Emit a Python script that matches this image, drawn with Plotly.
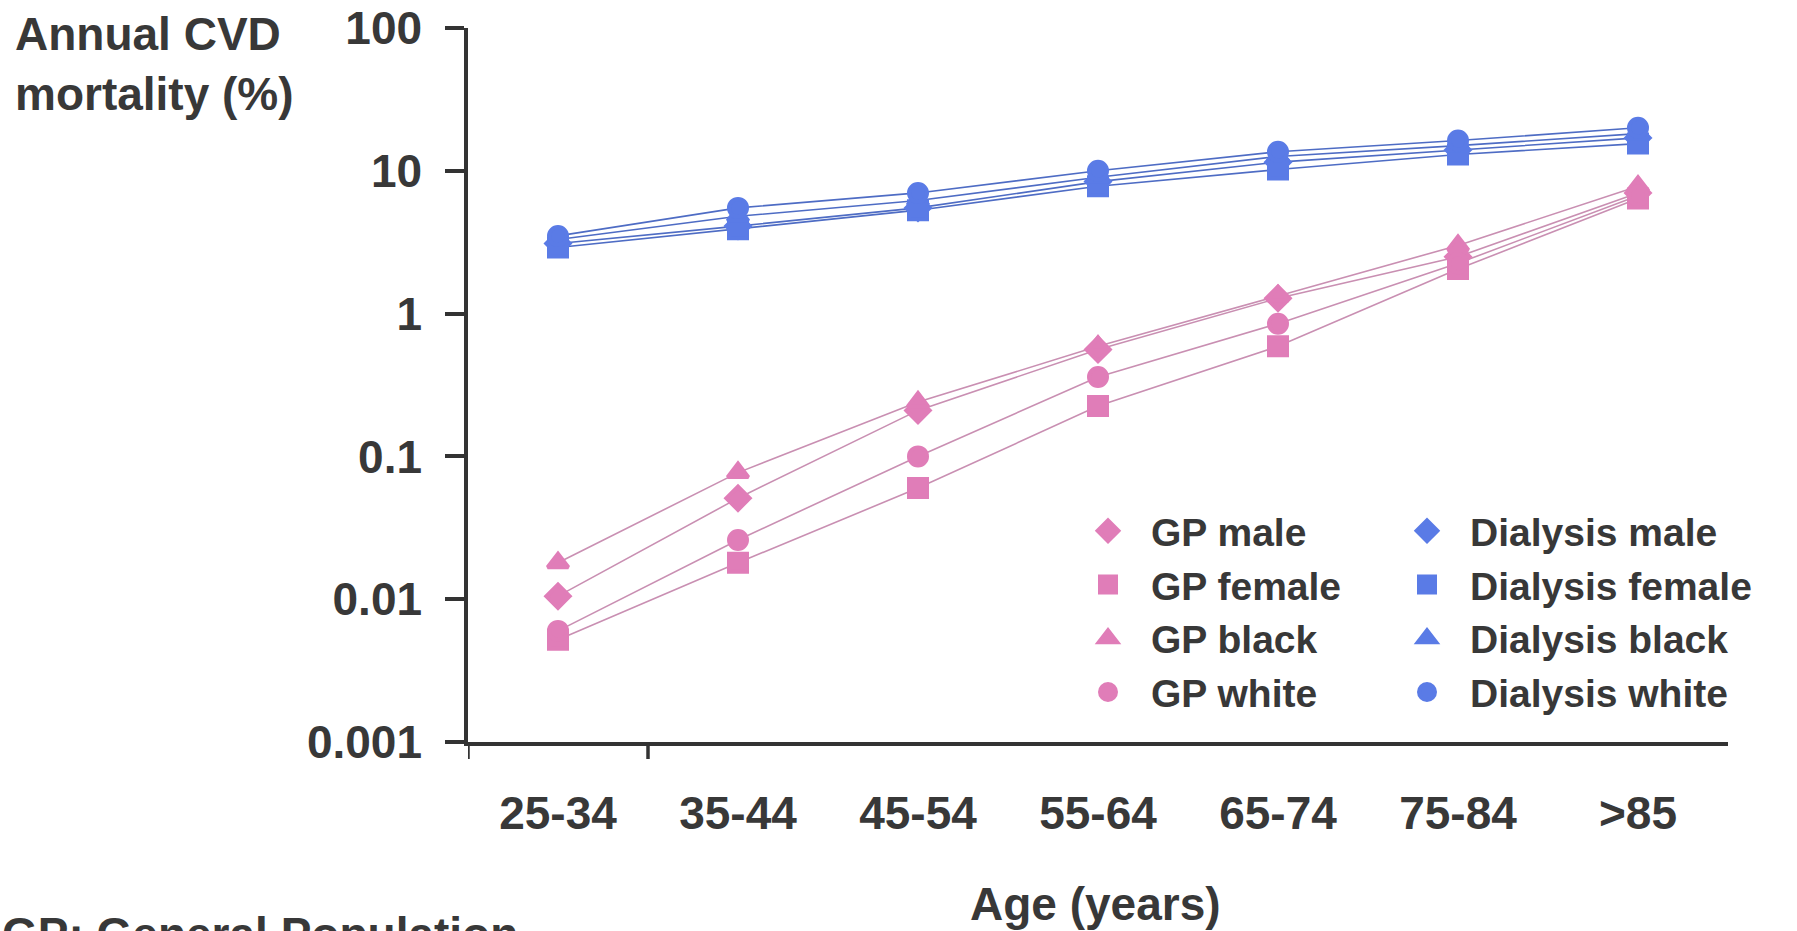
import plotly.graph_objects as go

categories = ["25-34", "35-44", "45-54", "55-64", "65-74", "75-84", ">85"]

gp_male = [0.0105, 0.051, 0.21, 0.56, 1.28, 2.5, 7.0]
gp_female = [0.0052, 0.018, 0.06, 0.225, 0.59, 2.05, 6.4]
gp_black = [0.018, 0.077, 0.24, 0.59, 1.33, 3.0, 7.8]
gp_white = [0.006, 0.026, 0.1, 0.36, 0.85, 2.25, 6.7]

dial_male = [3.1, 4.1, 5.5, 8.4, 11.5, 14.0, 17.0]
dial_female = [2.9, 3.9, 5.3, 7.8, 10.2, 13.0, 15.5]
dial_black = [3.3, 4.8, 6.2, 9.0, 12.6, 15.0, 18.2]
dial_white = [3.5, 5.5, 7.0, 10.0, 13.6, 16.3, 20.0]

y_tickvals = [0.001, 0.01, 0.1, 1, 10, 100]
y_ticktext = ["0.001", "0.01", "0.1", "1", "10", "100"]

PINK = "#E07DB8"
PINK_LINE = "#C98FB2"
BLUE = "#5A7BE6"
BLUE_LINE = "#4E6CC4"
TXT = "#383838"
FONT = "Liberation Sans, Arial, sans-serif"

series = [
    ("GP male", gp_male, "diamond", PINK, PINK_LINE, "legend"),
    ("GP female", gp_female, "square", PINK, PINK_LINE, "legend"),
    ("GP black", gp_black, "triangle-up", PINK, PINK_LINE, "legend"),
    ("GP white", gp_white, "circle", PINK, PINK_LINE, "legend"),
    ("Dialysis male", dial_male, "diamond", BLUE, BLUE_LINE, "legend2"),
    ("Dialysis female", dial_female, "square", BLUE, BLUE_LINE, "legend2"),
    ("Dialysis black", dial_black, "triangle-up", BLUE, BLUE_LINE, "legend2"),
    ("Dialysis white", dial_white, "circle", BLUE, BLUE_LINE, "legend2"),
]

fig = go.Figure()
for name, vals, sym, mc, lc, lg in series:
    fig.add_trace(go.Scatter(x=categories, y=vals, mode="lines",
                             line=dict(color=lc, width=1.6),
                             showlegend=False, hoverinfo="skip"))
for name, vals, sym, mc, lc, lg in series:
    fig.add_trace(go.Scatter(x=categories, y=vals, mode="markers", name=name,
                             marker=dict(symbol=sym, color=mc, size=18,
                                         line=dict(width=4, color=mc)),
                             legend=lg))

W, H = 1797, 931
L, R, T, B = 468, 69, 28, 189
pw, ph = W - L - R, H - T - B


def px_x(p):
    return (p - L) / pw


def px_y(p):
    return (H - B - p) / ph


axis_color = "#333333"
LEG_FONT = dict(family=FONT, size=39, color=TXT, weight="bold")

fig.update_layout(
    width=W, height=H,
    margin=dict(l=L, r=R, t=T, b=B, autoexpand=False),
    plot_bgcolor="white", paper_bgcolor="white",
    font=dict(family=FONT, size=46, color=TXT, weight="bold"),
    xaxis=dict(
        type="category", categoryorder="array", categoryarray=categories,
        range=[-0.5, 6.5], showgrid=False, zeroline=False, automargin=False,
        showline=True, linecolor=axis_color, linewidth=4,
        ticks="", ticklabelstandoff=28,
        tickfont=dict(family=FONT, size=46, color=TXT, weight="bold"),
    ),
    yaxis=dict(
        type="log", range=[-3, 2], showgrid=False, zeroline=False,
        automargin=False,
        showline=True, linecolor=axis_color, linewidth=3.5,
        tickmode="array", tickvals=y_tickvals, ticktext=y_ticktext,
        ticks="outside", ticklen=19, tickwidth=3.5, tickcolor=axis_color,
        ticklabelstandoff=14,
        tickfont=dict(family=FONT, size=46, color=TXT, weight="bold"),
    ),
    legend=dict(
        x=px_x(1065), y=px_y(499), xanchor="left", yanchor="top",
        bgcolor="rgba(0,0,0,0)", itemsizing="trace", itemwidth=76,
        font=LEG_FONT, tracegroupgap=0,
    ),
    legend2=dict(
        x=px_x(1384), y=px_y(499), xanchor="left", yanchor="top",
        bgcolor="rgba(0,0,0,0)", itemsizing="trace", itemwidth=76,
        font=LEG_FONT, tracegroupgap=0,
    ),
    shapes=[
        dict(type="line", xref="x", yref="paper", x0=0.5, x1=0.5,
             ysizemode="pixel", yanchor=0, y0=0, y1=-17,
             line=dict(color=axis_color, width=3.5)),
        dict(type="line", xref="x", yref="paper", x0=-0.5, x1=-0.5,
             ysizemode="pixel", yanchor=0, y0=0, y1=-17,
             line=dict(color=axis_color, width=3.5)),
    ],
    annotations=[
        dict(text="Annual CVD<br>mortality (%)", xref="paper", yref="paper",
             x=px_x(13), y=px_y(6), xanchor="left", yanchor="top",
             align="left", showarrow=False,
             font=dict(family=FONT, size=46, color=TXT, weight="bold")),
        dict(text="Age (years)", xref="paper", yref="paper",
             x=px_x(1095), y=px_y(876), xanchor="center", yanchor="top",
             showarrow=False,
             font=dict(family=FONT, size=46, color=TXT, weight="bold")),
        dict(text="GP: General Population", xref="paper", yref="paper",
             x=px_x(0), y=px_y(906), xanchor="left", yanchor="top",
             showarrow=False,
             font=dict(family=FONT, size=46, color=TXT, weight="bold")),
    ],
)

fig.write_html("out.html",
               config={"displayModeBar": False},
               post_script="document.body.style.margin='0';"
                           "document.body.style.padding='0';")
